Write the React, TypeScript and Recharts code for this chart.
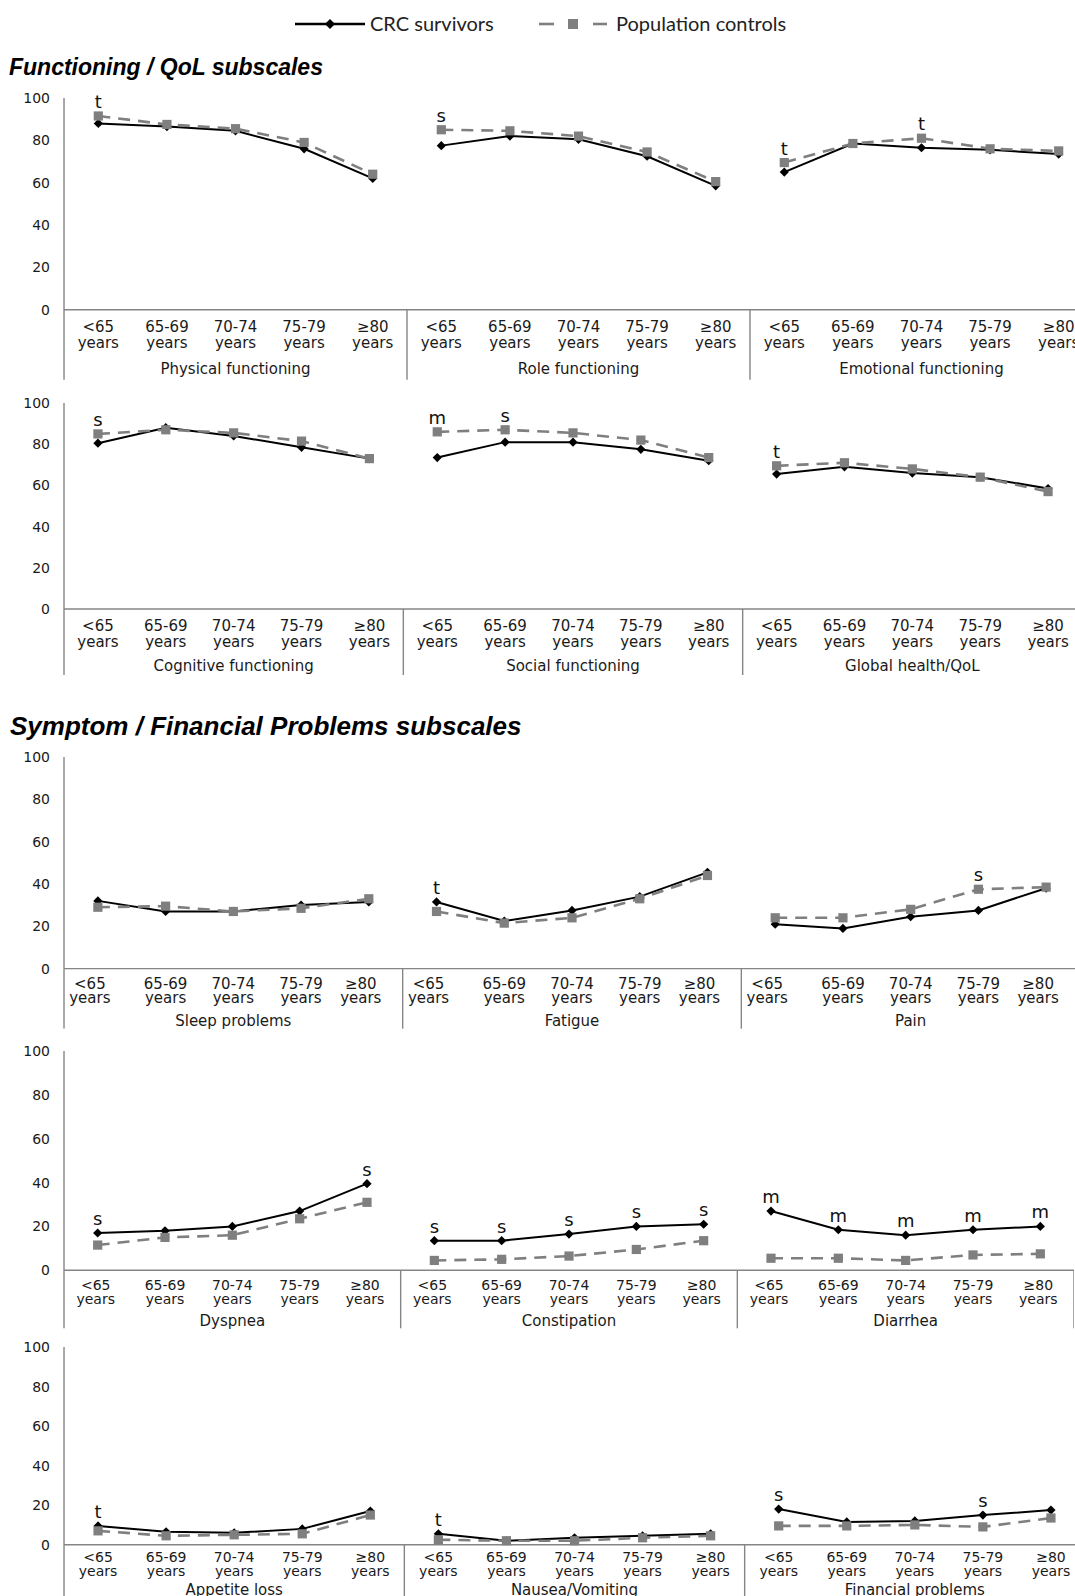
import React from "react";
import { LineChart, Line, XAxis, YAxis, LabelList } from "recharts";

const AGES = ["<65", "65-69", "70-74", "75-79", "≥80"];
const Y_TICKS = [0, 20, 40, 60, 80, 100];

// Functioning / QoL – row 1
const FUNC_A_GROUPS = ["Physical functioning", "Role functioning", "Emotional functioning"];
const FUNC_A_CRC = [88, 86.5, 84.5, 76, 62, 77.5, 82, 80.5, 72.5, 58.5, 65, 78.5, 76.5, 75.5, 73.5];
const FUNC_A_POP = [91.5, 87.5, 85.5, 79, 64, 85, 84.5, 82, 74.5, 60.5, 69.5, 78.5, 81, 76, 75];
const FUNC_A_SIG = ["t", "", "", "", "", "s", "", "", "", "", "t", "", "t", "", ""];

// Functioning / QoL – row 2
const FUNC_B_GROUPS = ["Cognitive functioning", "Social functioning", "Global health/QoL"];
const FUNC_B_CRC = [80.5, 88, 84, 78.5, 73, 73.5, 81, 81, 77.5, 72, 65.5, 69, 66, 64, 58.5];
const FUNC_B_POP = [85, 87, 85.5, 81.5, 73, 86, 87, 85.5, 82, 73.5, 69.5, 71, 68, 64, 57];
const FUNC_B_SIG = ["s", "", "", "", "", "m", "s", "", "", "", "t", "", "", "", ""];

// Symptom / Financial – row 1
const SYMP_A_GROUPS = ["Sleep problems", "Fatigue", "Pain"];
const SYMP_A_CRC = [32, 27, 27, 30, 31.5, 31.5, 22.5, 27.5, 34, 45.5, 21, 19, 24.5, 27.5, 38];
const SYMP_A_POP = [29, 29.5, 27, 28.5, 33, 27, 21.5, 24, 33, 44, 24, 24, 28, 37.5, 38.5];
const SYMP_A_SIG = ["", "", "", "", "", "t", "", "", "", "", "", "", "", "s", ""];

// Symptom / Financial – row 2
const SYMP_B_GROUPS = ["Dyspnea", "Constipation", "Diarrhea"];
const SYMP_B_CRC = [17, 18, 20, 27, 39.5, 13.5, 13.5, 16.5, 20, 21, 27, 18.5, 16, 18.5, 20];
const SYMP_B_POP = [11.5, 15, 16, 23.5, 31, 4.5, 5, 6.5, 9.5, 13.5, 5.5, 5.5, 4.5, 7, 7.5];
const SYMP_B_SIG = ["s", "", "", "", "s", "s", "s", "s", "s", "s", "m", "m", "m", "m", "m"];

// Symptom / Financial – row 3
const SYMP_C_GROUPS = ["Appetite loss", "Nausea/Vomiting", "Financial problems"];
const SYMP_C_CRC = [9.5, 6.5, 6, 8, 17, 5.5, 2, 3.5, 4.5, 5.5, 18, 11.5, 12, 15, 17.5];
const SYMP_C_POP = [7, 4.5, 5, 5.5, 15, 2.5, 2, 2, 3.5, 4.5, 9.5, 9.5, 10, 9, 13.5];
const SYMP_C_SIG = ["t", "", "", "", "", "t", "", "", "", "", "s", "", "", "s", ""];

const FONT = "'DejaVu Sans', sans-serif";
const AXIS_GREY = "#858585";
const POP_GREY = "#7f7f7f";
const TOP_PAD = 20;
const AXIS_H = 72;
const Y_W = 64;

const ROWS = [
  { groups: FUNC_A_GROUPS, crc: FUNC_A_CRC, pop: FUNC_A_POP, sig: FUNC_A_SIG, top: 98.3, plotH: 211.7, plotW: 1029, offs: [17.5, 33.3, 59, 70], shift: 0, fs: 15 },
  { groups: FUNC_B_GROUPS, crc: FUNC_B_CRC, pop: FUNC_B_POP, sig: FUNC_B_SIG, top: 403.3, plotH: 206, plotW: 1018, offs: [16.3, 32.5, 57, 66], shift: 0, fs: 15 },
  { groups: SYMP_A_GROUPS, crc: SYMP_A_CRC, pop: SYMP_A_POP, sig: SYMP_A_SIG, top: 756.7, plotH: 211.6, plotW: 1016, offs: [14.7, 29.5, 52, 60], shift: -8, fs: 15 },
  { groups: SYMP_B_GROUPS, crc: SYMP_B_CRC, pop: SYMP_B_POP, sig: SYMP_B_SIG, top: 1050.7, plotH: 219.3, plotW: 1010, offs: [14.5, 28.5, 50.7, 58], shift: -2, fs: 14 },
  { groups: SYMP_C_GROUPS, crc: SYMP_C_CRC, pop: SYMP_C_POP, sig: SYMP_C_SIG, top: 1347.3, plotH: 197.7, plotW: 1021, offs: [12.8, 26.3, 45, 60], shift: 0, fs: 14 },
];

type RowCfg = (typeof ROWS)[number];

function buildData(crc: number[], pop: number[], sig: string[]) {
  return crc.map((c, i) => {
    const g = Math.floor(i / 5);
    const point: Record<string, number | string> = {
      cat: `${g}|${AGES[i % 5]}`,
      sig: sig[i],
      top: Math.max(c, pop[i]),
    };
    point[`crc${g}`] = c;
    point[`pop${g}`] = pop[i];
    return point;
  });
}

const Diamond = (props: any) => {
  const { cx, cy, index } = props;
  if (cx == null || cy == null || isNaN(cy)) return <g key={`d${index}`} />;
  const r = 4.6;
  return <path key={`d${index}`} d={`M${cx},${cy - r}L${cx + r},${cy}L${cx},${cy + r}L${cx - r},${cy}Z`} fill="#000" />;
};

const Square = (props: any) => {
  const { cx, cy, index } = props;
  if (cx == null || cy == null || isNaN(cy)) return <g key={`s${index}`} />;
  const h = 4.6;
  return <rect key={`s${index}`} x={cx - h} y={cy - h} width={h * 2} height={h * 2} fill={POP_GREY} />;
};

const SigLabel = (props: any) => {
  const { x, y, value } = props;
  if (!value) return null;
  return (
    <text x={x} y={y - 8} textAnchor="middle" fontFamily={FONT} fontSize={18} fill="#111">
      {value}
    </text>
  );
};

function AgeTick({ x, y, payload, row }: any) {
  const i: number = payload.index;
  const k = i % 5;
  const half = row.plotW / 30;
  const [l1, l2, lg, lb] = row.offs;
  const dx = k === 0 || k === 4 ? row.shift : 0;
  const txt = { textAnchor: "middle" as const, fontFamily: FONT, fontSize: row.fs, fill: "#1a1a1a" };
  return (
    <g>
      <text x={x + dx} y={y + l1} dy="0.35em" {...txt}>
        {AGES[k]}
      </text>
      <text x={x + dx} y={y + l2} dy="0.35em" {...txt}>
        years
      </text>
      {k === 2 && (
        <text x={x} y={y + lg} dy="0.35em" {...txt} fontSize={15}>
          {row.groups[Math.floor(i / 5)]}
        </text>
      )}
      {k === 0 && <line x1={x - half} x2={x - half} y1={y} y2={y + lb} stroke={AXIS_GREY} strokeWidth={1.4} />}
      {i === 14 && <line x1={x + half} x2={x + half} y1={y} y2={y + lb} stroke={AXIS_GREY} strokeWidth={1.4} />}
    </g>
  );
}

function PanelRow({ row }: { row: RowCfg }) {
  const data = buildData(row.crc, row.pop, row.sig);
  const width = Y_W + row.plotW;
  const height = TOP_PAD + row.plotH + AXIS_H;
  const half = row.plotW / 30;
  return (
    <div style={{ position: "absolute", left: 0, top: row.top - TOP_PAD }}>
      <LineChart width={width} height={height} data={data} margin={{ top: TOP_PAD, right: 0, bottom: 0, left: 0 }}>
        <XAxis
          dataKey="cat"
          interval={0}
          height={AXIS_H}
          padding={{ left: half, right: half }}
          tickLine={false}
          tickSize={0}
          tickMargin={0}
          axisLine={{ stroke: AXIS_GREY, strokeWidth: 1.4 }}
          tick={(p: any) => <AgeTick {...p} row={row} />}
        />
        <YAxis
          domain={[0, 100]}
          ticks={Y_TICKS}
          width={Y_W}
          tickLine={false}
          tickMargin={8}
          axisLine={{ stroke: AXIS_GREY, strokeWidth: 1.4 }}
          tick={{ fontFamily: FONT, fontSize: 14, fill: "#1a1a1a" }}
        />
        {[0, 1, 2].map((g) => (
          <Line
            key={`crc${g}`}
            dataKey={`crc${g}`}
            stroke="#000"
            strokeWidth={2}
            dot={Diamond}
            activeDot={false}
            isAnimationActive={false}
          />
        ))}
        {[0, 1, 2].map((g) => (
          <Line
            key={`pop${g}`}
            dataKey={`pop${g}`}
            stroke={POP_GREY}
            strokeWidth={2.6}
            strokeDasharray="12 8"
            dot={Square}
            activeDot={false}
            isAnimationActive={false}
          />
        ))}
        <Line dataKey="top" stroke="none" dot={false} activeDot={false} isAnimationActive={false}>
          <LabelList dataKey="sig" content={SigLabel} />
        </Line>
      </LineChart>
    </div>
  );
}

export default function App() {
  return (
    <div
      style={{
        position: "absolute",
        left: 0,
        top: 0,
        width: 1075,
        height: 1596,
        overflow: "hidden",
        background: "#fff",
      }}
    >
      {ROWS.map((row, i) => (
        <PanelRow key={i} row={row} />
      ))}
      <svg width={1075} height={1596} style={{ position: "absolute", left: 0, top: 0, pointerEvents: "none" }}>
        {/* legend */}
        <line x1={295} x2={365} y1={24} y2={24} stroke="#000" strokeWidth={2.5} />
        <path d="M330,19L335,24L330,29L325,24Z" fill="#000" />
        <text x={370} y={31} fontFamily="Lato, sans-serif" fontSize={20} fill="#222">
          CRC survivors
        </text>
        <line x1={539} x2={554} y1={24} y2={24} stroke={POP_GREY} strokeWidth={2.6} />
        <rect x={568} y={19} width={10} height={10} fill={POP_GREY} />
        <line x1={593} x2={607} y1={24} y2={24} stroke={POP_GREY} strokeWidth={2.6} />
        <text x={616} y={31} fontFamily="Lato, sans-serif" fontSize={20} fill="#222">
          Population controls
        </text>
        {/* section titles */}
        <text x={9} y={75} fontFamily="'Liberation Sans', Arial, sans-serif" fontWeight="bold" fontStyle="italic" fontSize={23} fill="#000">
          Functioning / QoL subscales
        </text>
        <text x={10} y={735} fontFamily="'Liberation Sans', Arial, sans-serif" fontWeight="bold" fontStyle="italic" fontSize={26} fill="#000">
          Symptom / Financial Problems subscales
        </text>
      </svg>
    </div>
  );
}
